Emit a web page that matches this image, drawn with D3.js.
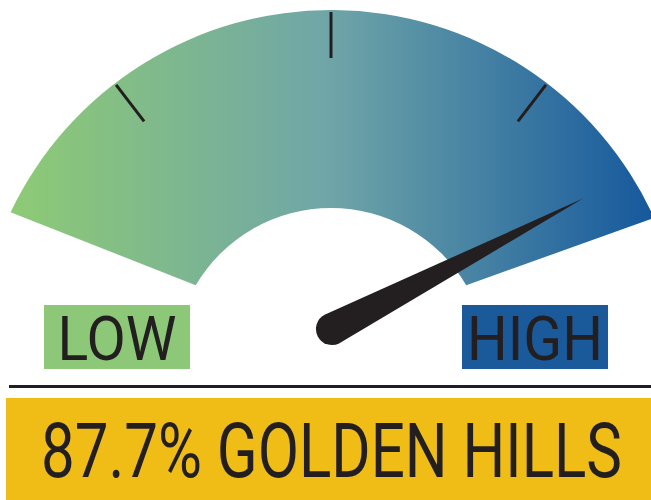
<!DOCTYPE html>
<html lang="en">
<head>
    <meta charset="UTF-8">
    <title>Gauge - Golden Hills</title>
    <script src="https://d3js.org/d3.v7.min.js"></script>
    <style>
        body { margin: 0; background: #fff; }
        svg { display: block; }
        text { font-family: Roboto, "Noto Sans", sans-serif; fill: #231f20; }
    </style>
</head>
<body>
    <svg width="651" height="500"></svg>

    <script>
        // data
        const value = 87.7;
        const place = "GOLDEN HILLS";
        const domain = [0, 100];
        const tickValues = [25, 50, 75];
        const bandLabels = ["LOW", "HIGH"];
        const bandColors = ["#8dc878", "#1a5a9a"];

        const svg = d3.select("svg");
        const cx = 331, cy = 365;
        const R = 355, r = 157;
        const rad = d => d * Math.PI / 180;

        // value -> angle (degrees, 0 = straight up)
        const angle = d3.scaleLinear().domain(domain).range([-75, 75]);
        const polar = (a, len) => [cx + len * Math.sin(rad(a)), cy - len * Math.cos(rad(a))];

        const grad = svg.append("defs").append("linearGradient")
            .attr("id", "band")
            .attr("gradientUnits", "userSpaceOnUse")
            .attr("x1", 10).attr("x2", 651).attr("y1", 0).attr("y2", 0);
        grad.selectAll("stop")
            .data([["0%", "#8ecb74"], ["50%", "#6fa5a8"], ["100%", "#16599d"]])
            .join("stop")
            .attr("offset", d => d[0])
            .attr("stop-color", d => d[1]);

        // gauge band: outer arc, inner arc
        const oaL = 64.5, oaR = 65.5, ia = 59.5;
        const p = d3.path();
        const o0 = polar(-oaL, R), i1 = polar(ia, r);
        p.moveTo(o0[0], o0[1]);
        p.arc(cx, cy, R, rad(-oaL - 90), rad(oaR - 90));
        p.lineTo(i1[0], i1[1]);
        p.arc(cx, cy, r, rad(ia - 90), rad(-ia - 90), true);
        p.closePath();
        svg.append("path").attr("d", p.toString()).attr("fill", "url(#band)");

        // ticks
        svg.selectAll("line.tick")
            .data(tickValues)
            .join("line")
            .attr("class", "tick")
            .attr("x1", d => polar(angle(d), R - 2)[0])
            .attr("y1", d => polar(angle(d), R - 2)[1])
            .attr("x2", d => polar(angle(d), R - 48)[0])
            .attr("y2", d => polar(angle(d), R - 48)[1])
            .attr("stroke", "#231f20")
            .attr("stroke-width", 3);

        // needle
        const tip = polar(angle(value), 302);
        const px = cx + 1, py = cy - 36, pr = 16;
        const dir = Math.atan2(tip[1] - py, tip[0] - px);
        const n = d3.path();
        n.moveTo(tip[0], tip[1]);
        n.lineTo(px + pr * Math.cos(dir + Math.PI / 2), py + pr * Math.sin(dir + Math.PI / 2));
        n.arc(px, py, pr, dir + Math.PI / 2, dir - Math.PI / 2);
        n.closePath();
        svg.append("path").attr("d", n.toString()).attr("fill", "#231f20");

        // LOW / HIGH labels
        const boxes = [{ x: 44, w: 146, tl: 119 }, { x: 462, w: 146, tl: 136 }];
        const lab = svg.selectAll("g.lab")
            .data(bandLabels)
            .join("g")
            .attr("class", "lab");
        lab.append("rect")
            .attr("x", (d, i) => boxes[i].x)
            .attr("y", 305)
            .attr("width", (d, i) => boxes[i].w)
            .attr("height", 64)
            .attr("fill", (d, i) => bandColors[i]);
        lab.append("text")
            .attr("x", (d, i) => boxes[i].x + boxes[i].w / 2)
            .attr("y", 360)
            .attr("text-anchor", "middle")
            .attr("font-size", 61)
            .attr("textLength", (d, i) => boxes[i].tl)
            .attr("lengthAdjust", "spacingAndGlyphs")
            .text(d => d);

        // rule
        svg.append("line")
            .attr("x1", 9).attr("x2", 651)
            .attr("y1", 386.5).attr("y2", 386.5)
            .attr("stroke", "#231f20")
            .attr("stroke-width", 3);

        // result banner
        svg.append("rect")
            .attr("x", 6).attr("y", 398)
            .attr("width", 645).attr("height", 102)
            .attr("fill", "#f0bd17");
        const banner = svg.append("text")
            .attr("font-size", 76)
            .text(d3.format(".1f")(value) + "% " + place);
        const sx = 581 / banner.node().getComputedTextLength();
        banner.attr("transform", `translate(41,477) scale(${sx},1)`);
    </script>
</body>
</html>
